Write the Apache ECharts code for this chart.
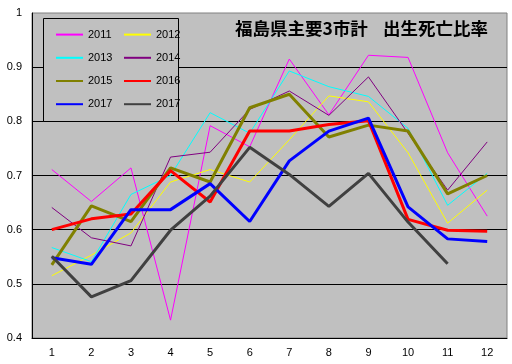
<!DOCTYPE html>
<html>
<head>
<meta charset="utf-8">
<script src="https://cdn.jsdelivr.net/npm/echarts@6/dist/echarts.min.js"></script>
<style>html,body{margin:0;padding:0;background:#fff}#c{width:512px;height:364px}</style>
</head>
<body>
<div id="c"></div>
<script>
const months = ['1','2','3','4','5','6','7','8','9','10','11','12'];
const y2011 = [0.711, 0.652, 0.714, 0.433, 0.792, 0.753, 0.915, 0.812, 0.922, 0.918, 0.742, 0.625];
const y2012 = [0.515, 0.553, 0.594, 0.688, 0.711, 0.688, 0.766, 0.847, 0.836, 0.742, 0.612, 0.673];
const y2013 = [0.567, 0.541, 0.665, 0.700, 0.816, 0.778, 0.893, 0.864, 0.846, 0.787, 0.645, 0.704];
const y2014 = [0.641, 0.585, 0.570, 0.734, 0.743, 0.822, 0.856, 0.811, 0.882, 0.778, 0.673, 0.762];
const y2015 = [0.535, 0.644, 0.615, 0.714, 0.688, 0.825, 0.850, 0.771, 0.793, 0.782, 0.666, 0.700];
const y2016 = [0.600, 0.620, 0.629, 0.709, 0.651, 0.782, 0.782, 0.794, 0.801, 0.619, 0.599, 0.597];
const y2017 = [0.548, 0.536, 0.637, 0.637, 0.685, 0.615, 0.727, 0.782, 0.806, 0.642, 0.583, 0.578];
const y2017b = [0.551, 0.476, 0.506, 0.599, 0.662, 0.752, 0.702, 0.643, 0.704, 0.614, 0.537, null];
const yTicks = [0.4, 0.5, 0.6, 0.7, 0.8, 0.9, 1.0];
const titleA = '福島県主要3市計';
const titleB = '出生死亡比率';

const seriesDefs = [
  {name: '2011', data: y2011, color: '#ff00ff', w: 1},
  {name: '2012', data: y2012, color: '#ffff00', w: 1},
  {name: '2013', data: y2013, color: '#00ffff', w: 1},
  {name: '2014', data: y2014, color: '#800080', w: 1},
  {name: '2015', data: y2015, color: '#808000', w: 3},
  {name: '2016', data: y2016, color: '#ff0000', w: 3},
  {name: '2017', data: y2017, color: '#0000ff', w: 3},
  {name: '2017b', data: y2017b, color: '#404040', w: 3}
];

const chart = echarts.init(document.getElementById('c'));
const legendCommon = {
  orient: 'vertical',
  top: 24,
  itemWidth: 27,
  itemHeight: 14,
  itemGap: 12,
  z: 10,
  itemStyle: {color: 'transparent', borderWidth: 0, opacity: 0},
  textStyle: {fontFamily: 'Liberation Sans', fontSize: 11, color: '#000'},
  formatter: n => n === '2017b' ? '2017' : n,
  selectedMode: false
};
const titleStyle = {fontFamily: 'Noto Sans CJK JP', fontWeight: 'bold', fontSize: 17.5, color: '#000'};
chart.setOption({
  animation: false,
  backgroundColor: '#fff',
  title: [
    {text: titleA, left: 230, top: 15, textStyle: titleStyle, z: 10},
    {text: titleB, right: 19, top: 15, textStyle: titleStyle, z: 10}
  ],
  grid: {left: 32, right: 5, top: 13, bottom: 26, show: true, backgroundColor: '#c0c0c0', borderColor: '#808080', borderWidth: 1},
  legend: [
    Object.assign({left: 50, data: ['2011', '2013', '2015', '2017']}, legendCommon),
    Object.assign({left: 118, data: ['2012', '2014', '2016', '2017b']}, legendCommon)
  ],
  graphic: [{
    type: 'rect', left: 43, top: 18, z: 5,
    shape: {width: 135, height: 103},
    style: {fill: '#c0c0c0', stroke: '#000', lineWidth: 1}
  }],
  xAxis: {
    type: 'category', data: months, boundaryGap: true,
    axisLine: {lineStyle: {color: '#000', width: 1}},
    axisTick: {inside: true, length: 3, lineStyle: {color: '#000'}},
    axisLabel: {fontFamily: 'Liberation Sans', fontSize: 11, color: '#000', margin: 9}
  },
  yAxis: {
    type: 'value', min: yTicks[0], max: yTicks[yTicks.length - 1], interval: 0.1,
    axisLine: {show: true, lineStyle: {color: '#000', width: 1}},
    axisTick: {show: false},
    splitLine: {show: true, showMaxLine: false, lineStyle: {color: '#000', width: 1}},
    axisLabel: {fontFamily: 'Liberation Sans', fontSize: 11, color: '#000', margin: 10,
      formatter: v => String(+v.toFixed(1))}
  },
  series: seriesDefs.map(s => ({
    name: s.name, type: 'line', data: s.data, symbol: 'none', connectNulls: false,
    color: s.color,
    lineStyle: {color: s.color, width: s.w},
    itemStyle: {color: s.color}
  }))
});
</script>
</body>
</html>
